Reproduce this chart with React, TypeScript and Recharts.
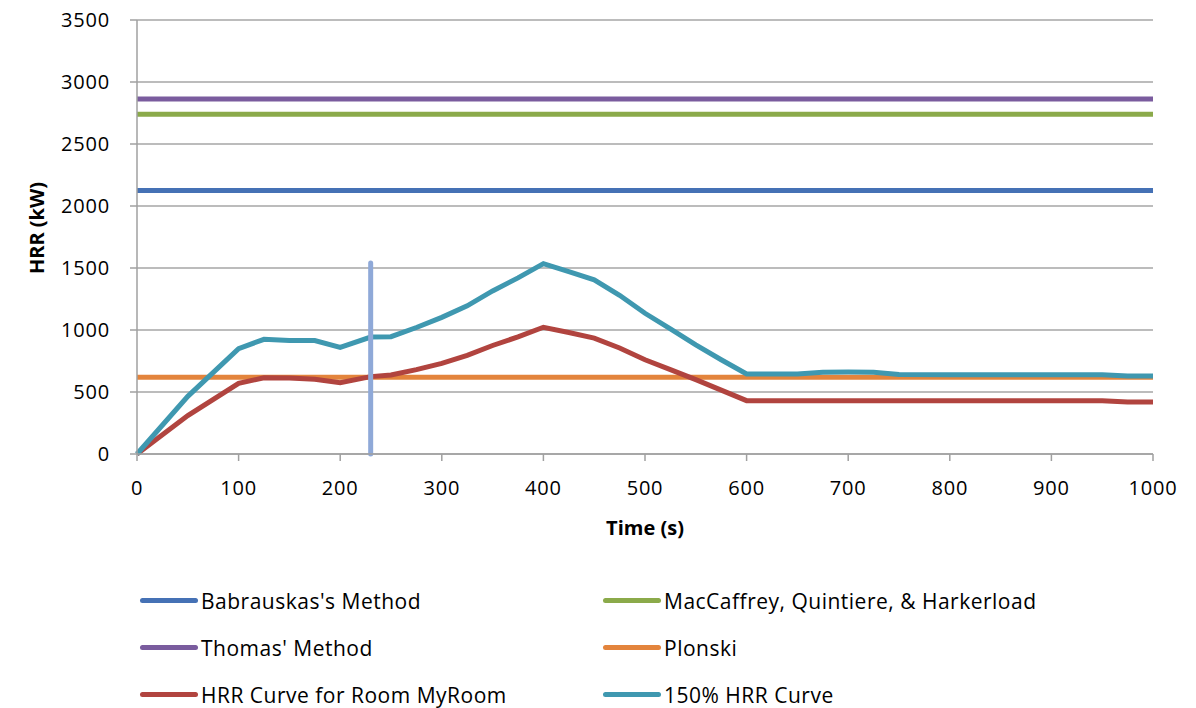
import React from 'react';
import {
  LineChart,
  Line,
  XAxis,
  YAxis,
  CartesianGrid,
  Legend,
  ReferenceLine,
  Label,
} from 'recharts';

// time points (s)
const times = [0, 50, 100, 125, 150, 175, 200, 230, 250, 275, 300, 325, 350, 375, 400, 425, 450, 475, 500, 525, 550, 575, 600, 650, 675, 700, 725, 750, 800, 850, 900, 950, 975, 1000];

// HRR curve for the room (kW)
const hrrRoom = [0, 310, 570, 615, 612, 602, 575, 624, 637, 680, 731, 795, 875, 945, 1022, 980, 935, 855, 760, 680, 600, 515, 430, 430, 430, 430, 430, 430, 430, 430, 430, 430, 419, 419];

// 150% HRR curve (kW)
const hrr150 = [0, 465, 850, 925, 915, 915, 860, 943, 946, 1020, 1102, 1195, 1315, 1420, 1535, 1470, 1405, 1280, 1135, 1010, 880, 760, 645, 645, 660, 661, 660, 642, 640, 640, 640, 640, 629, 629];

// constant estimates (kW)
const babrauskas = 2125;
const maccaffrey = 2740;
const thomas = 2862;
const plonski = 618;

// flashover marker
const markerTime = 230;
const markerTop = 1540;

const xTicks = [0, 100, 200, 300, 400, 500, 600, 700, 800, 900, 1000];
const yTicks = [0, 500, 1000, 1500, 2000, 2500, 3000, 3500];

const SERIES = [
  { key: 'babrauskas', name: "Babrauskas's Method", color: '#4571B5' },
  { key: 'maccaffrey', name: 'MacCaffrey, Quintiere, & Harkerload', color: '#8BAA4A' },
  { key: 'thomas', name: "Thomas' Method", color: '#7A5C9E' },
  { key: 'plonski', name: 'Plonski', color: '#E3843C' },
  { key: 'room', name: 'HRR Curve for Room MyRoom', color: '#B1443F' },
  { key: 'pct150', name: '150% HRR Curve', color: '#3F98B0' },
];

const FONT = '"Open Sans", sans-serif';

const chartData = times.map((t, i) => ({
  time: t,
  babrauskas,
  maccaffrey,
  thomas,
  plonski,
  room: hrrRoom[i],
  pct150: hrr150[i],
}));

// two-column legend, matching the spreadsheet layout
const LegendBox = () => (
  <div
    style={{
      display: 'grid',
      gridTemplateColumns: '463px 500px',
      paddingLeft: 140,
      fontFamily: FONT,
      fontSize: 21,
      letterSpacing: 0.5,
      color: '#000',
    }}
  >
    {SERIES.map((s) => (
      <div key={s.key} style={{ display: 'flex', alignItems: 'center', height: 47, whiteSpace: 'nowrap' }}>
        <span
          style={{
            display: 'inline-block',
            width: 58,
            height: 5,
            borderRadius: 3,
            background: s.color,
            marginRight: 3,
          }}
        />
        <span>{s.name}</span>
      </div>
    ))}
  </div>
);

export default function App() {
  return (
    <div style={{ position: 'absolute', left: 0, top: 0, width: 1196, height: 708, background: '#fff' }}>
      <LineChart
        width={1196}
        height={708}
        data={chartData}
        margin={{ top: 20, right: 43, left: 0, bottom: 164 }}
      >
        <CartesianGrid vertical={false} stroke="#A6A6A6" strokeWidth={1.5} />
        <XAxis
          dataKey="time"
          type="number"
          domain={[0, 1000]}
          ticks={xTicks}
          height={90}
          tickSize={7}
          tickMargin={20}
          stroke="#A0A0A0"
          strokeWidth={1.5}
          tick={{ fill: '#000', fontSize: 20, fontFamily: FONT, letterSpacing: 0.8 }}
        >
          <Label
            content={() => (
              <text x={645} y={535} textAnchor="middle" fontFamily={FONT} fontSize={20} fontWeight="bold" fill="#000">
                Time (s)
              </text>
            )}
          />
        </XAxis>
        <YAxis
          type="number"
          domain={[0, 3500]}
          ticks={yTicks}
          width={137}
          tickSize={7}
          tickMargin={20}
          stroke="#A0A0A0"
          strokeWidth={1.5}
          tick={{ fill: '#000', fontSize: 20, fontFamily: FONT, letterSpacing: 0.8 }}
        >
          <Label
            content={() => (
              <text
                x={44}
                y={228}
                transform="rotate(-90 44 228)"
                textAnchor="middle"
                fontFamily={FONT}
                fontSize={20}
                fontWeight="bold"
                fill="#000"
              >
                HRR (kW)
              </text>
            )}
          />
        </YAxis>
        <Legend
          layout="horizontal"
          verticalAlign="middle"
          align="center"
          wrapperStyle={{ position: 'absolute', top: 577, left: 0, width: 1196, height: 141 }}
          content={() => <LegendBox />}
        />
        {SERIES.map((s) => (
          <Line
            key={s.key}
            dataKey={s.key}
            name={s.name}
            type="linear"
            stroke={s.color}
            strokeWidth={5}
            dot={false}
            activeDot={false}
            isAnimationActive={false}
          />
        ))}
        <ReferenceLine
          segment={[
            { x: markerTime, y: 0 },
            { x: markerTime, y: markerTop },
          ]}
          stroke="#8FA9D8"
          strokeWidth={5}
          strokeLinecap="round"
        />
      </LineChart>
    </div>
  );
}
